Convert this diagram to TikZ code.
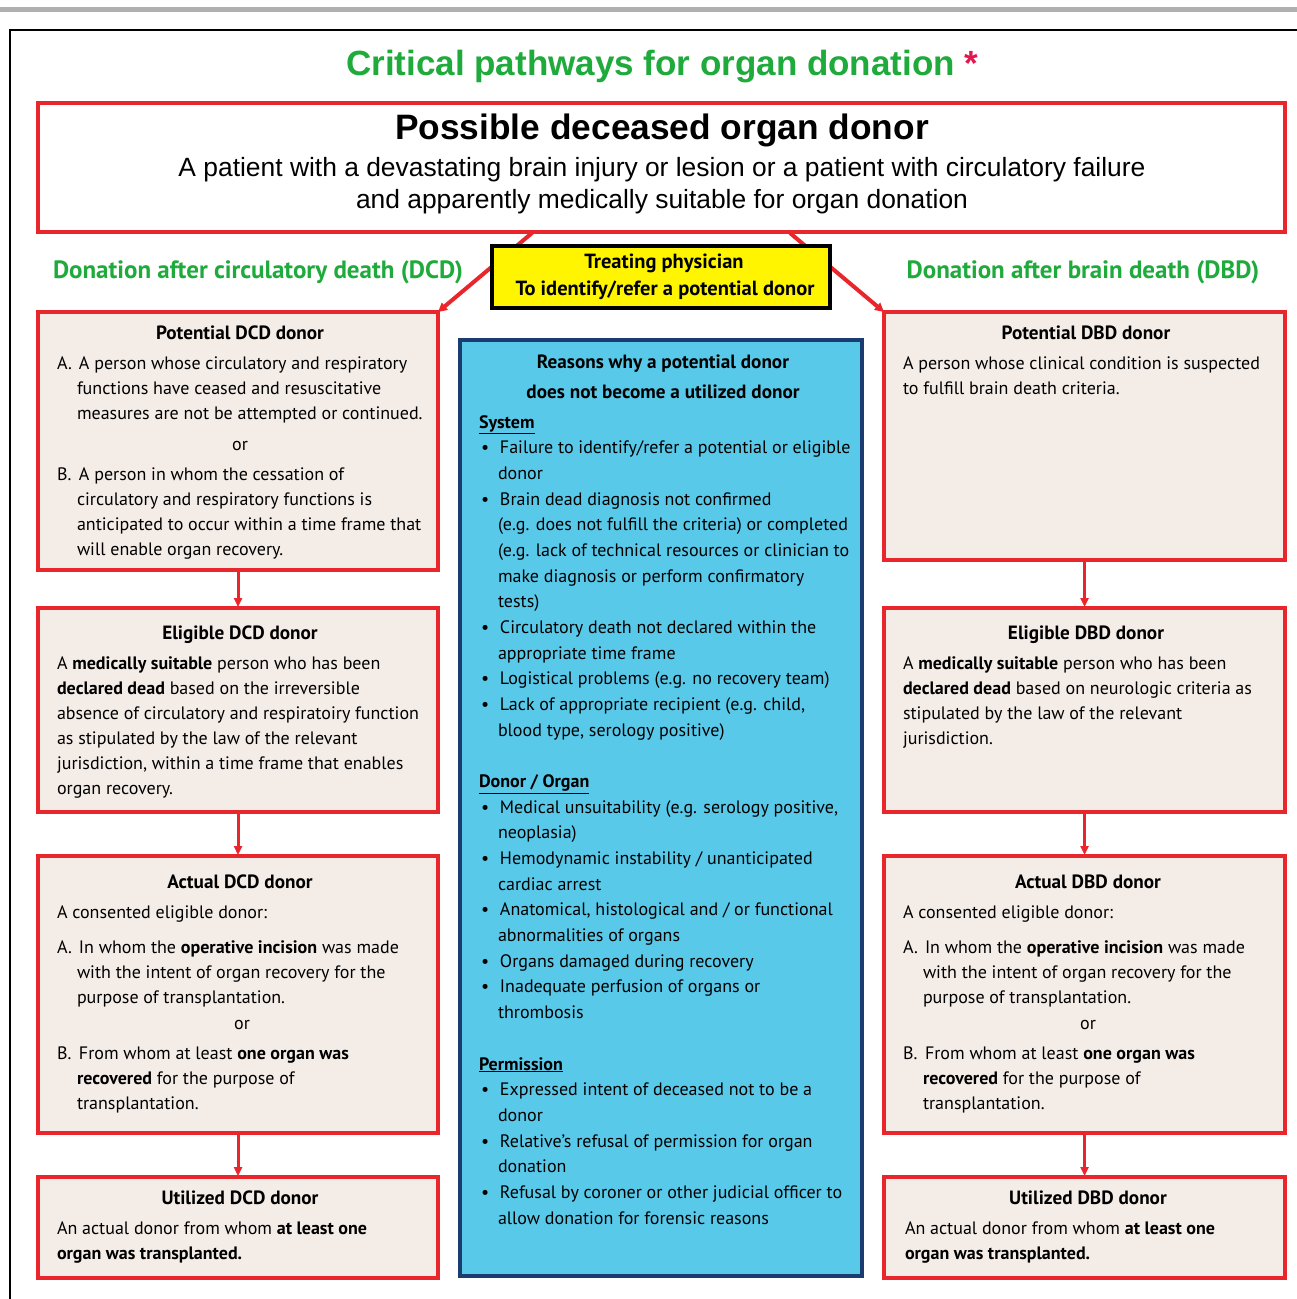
\documentclass[tikz,border=0pt]{standalone}
\usepackage{fontspec}
\setmainfont{PT Sans}
\newfontfamily\arialf{Liberation Sans}
\usetikzlibrary{arrows.meta}
\definecolor{redc}{HTML}{E8262B}
\definecolor{beige}{HTML}{F4ECE7}
\definecolor{bluec}{HTML}{59C9EA}
\definecolor{navyc}{HTML}{1B3C70}
\definecolor{yellowc}{HTML}{FFF500}
\definecolor{greent}{HTML}{1FAA3C}
\definecolor{starc}{HTML}{E3174F}
\definecolor{grayc}{HTML}{B0B0B0}
\newcommand\bodyfont{\fontsize{18}{25}\selectfont}
\newcommand\blk[1]{\vtop{\halign{##\hfil\cr#1\crcr}}}
\newcommand\lab[1]{\makebox[22pt][l]{#1}}
\newcommand\ind{\hspace*{20pt}}
\newcommand\bul{\makebox[21pt][l]{\hspace*{2pt}\textbullet}}
\newcommand\cind{\hspace*{19pt}}
\tikzset{
  redbox/.style={draw=redc, line width=4pt, fill=beige, inner sep=0pt, outer sep=0pt, anchor=north west},
  txt/.style={inner sep=0pt, outer sep=0pt, anchor=base west, font=\bodyfont},
  ttl/.style={inner sep=0pt, outer sep=0pt, anchor=base, font=\fontsize{19.2}{25}\selectfont\bfseries},
  orlbl/.style={inner sep=0pt, outer sep=0pt, anchor=base, font=\bodyfont},
  hdr/.style={inner sep=0pt, anchor=base, text=greent, font=\fontsize{25}{30}\selectfont\bfseries},
  arr/.style={draw=redc, line width=3pt, shorten >=1pt, -{Triangle[length=9pt,width=8pt]}},
}
\begin{document}
\begin{tikzpicture}[x=1pt,y=-1pt]
\useasboundingbox (0,0) rectangle (1297,1299);
\fill[white] (0,0) rectangle (1297,1299);
% top gray bar and frame
\fill[grayc] (0,7) rectangle (1297,12);
\draw[line width=2pt] (10,1299) -- (10,30) -- (1297,30);
% title
\node[inner sep=0pt, anchor=base west, text=greent, font=\arialf\bfseries\fontsize{35}{40}\selectfont] (title) at (346,75) {Critical pathways for organ donation \textcolor{starc}{*}};
% top box
\node[draw=redc, line width=4pt, fill=white, inner sep=0pt, outer sep=0pt, anchor=north west, minimum width=1247pt, minimum height=129pt] (top) at (38,103) {};
\node[inner sep=0pt, anchor=base, font=\arialf\bfseries\fontsize{35.3}{40}\selectfont] (topT) at (662,139) {Possible deceased organ donor};
\node[inner sep=0pt, anchor=base, font=\arialf\fontsize{26.4}{30}\selectfont] (topL1) at (662,176) {A patient with a devastating brain injury or lesion or a patient with circulatory failure};
\node[inner sep=0pt, anchor=base, font=\arialf\fontsize{26.4}{30}\selectfont] (topL2) at (662,208) {and apparently medically suitable for organ donation};
% headers
\node[hdr] (hdcd) at (258,278) {Donation after circulatory death (DCD)};
\node[hdr] (hdbd) at (1083,278) {Donation after brain death (DBD)};
% left column boxes
\node[redbox, minimum width=400pt, minimum height=258pt] (pdcd) at (38,312) {};
\node[redbox, minimum width=400pt, minimum height=204pt] (edcd) at (38,608) {};
\node[redbox, minimum width=400pt, minimum height=277pt] (adcd) at (38,856) {};
\node[redbox, minimum width=400pt, minimum height=101pt] (udcd) at (38,1177) {};
% right column boxes
\node[redbox, minimum width=401pt, minimum height=248pt] (pdbd) at (884,312) {};
\node[redbox, minimum width=401pt, minimum height=204pt] (edbd) at (884,608) {};
\node[redbox, minimum width=401pt, minimum height=277pt] (adbd) at (884,856) {};
\node[redbox, minimum width=401pt, minimum height=101pt] (udbd) at (884,1177) {};
% center blue box
\node[draw=navyc, line width=4pt, fill=bluec, inner sep=0pt, outer sep=0pt, anchor=north west, minimum width=402pt, minimum height=936pt] (why) at (460,340) {};
% arrows
\draw[arr] (pdcd.south) -- (edcd.north);
\draw[arr] (edcd.south) -- (adcd.north);
\draw[arr] (adcd.south) -- (udcd.north);
\draw[arr] (pdbd.south) -- (edbd.north);
\draw[arr] (edbd.south) -- (adbd.north);
\draw[arr] (adbd.south) -- (udbd.north);
\coordinate (tl) at (532,233);
\coordinate (tr) at (790,233);
\draw[draw=redc, line width=4pt, -{Triangle[length=9pt,width=9pt]}] (tl) -- (pdcd.north east);
\draw[draw=redc, line width=4pt, -{Triangle[length=9pt,width=9pt]}] (tr) -- (pdbd.north west);
% yellow box
\node[draw=black, line width=4pt, fill=yellowc, inner sep=0pt, outer sep=0pt, anchor=north west, minimum width=338pt, minimum height=62pt] (phys) at (492,246) {};
\node[inner sep=0pt, anchor=base, font=\fontsize{20.5}{22}\selectfont\bfseries] (physT) at (664,268) {Treating physician};
\node[inner sep=0pt, anchor=base, font=\fontsize{20.5}{22}\selectfont\bfseries] (physL) at (665,295) {To identify/refer a potential donor};
% Potential DCD
\node[ttl] (pdcdT) at (240,339) {Potential DCD donor};
\node[txt] (pdcdA) at (57,369) {\blk{\lab{A.}A person whose circulatory and respiratory\cr
\ind functions have ceased and resuscitative\cr
\ind measures are not be attempted or continued.}};
\node[orlbl] (pdcdO) at (240,450) {or};
\node[txt] (pdcdB) at (57,480) {\blk{\lab{B.}A person in whom the cessation of\cr
\ind circulatory and respiratory functions is\cr
\ind anticipated to occur within a time frame that\cr
\ind will enable organ recovery.}};
% Eligible DCD
\node[ttl] (edcdT) at (240,639) {Eligible DCD donor};
\node[txt] (edcdX) at (57,669) {\blk{A \textbf{medically suitable} person who has been\cr
\textbf{declared dead} based on the irreversible\cr
absence of circulatory and respiratoiry function\cr
as stipulated by the law of the relevant\cr
jurisdiction, within a time frame that enables\cr
organ recovery.}};
% Actual DCD
\node[ttl] (adcdT) at (240,888) {Actual DCD donor};
\node[txt] (adcdX) at (57,918) {A consented eligible donor:};
\node[txt] (adcdA) at (57,953) {\blk{\lab{A.}In whom the \textbf{operative incision} was made\cr
\ind with the intent of organ recovery for the\cr
\ind purpose of transplantation.}};
\node[orlbl] (adcdO) at (242,1029) {or};
\node[txt] (adcdB) at (57,1059) {\blk{\lab{B.}From whom at least \textbf{one organ was}\cr
\ind\textbf{recovered} for the purpose of\cr
\ind transplantation.}};
% Utilized DCD
\node[ttl] (udcdT) at (240,1204) {Utilized DCD donor};
\node[txt] (udcdX) at (57,1234) {\blk{An actual donor from whom \textbf{at least one}\cr
\textbf{organ was transplanted.}}};
% Potential DBD
\node[ttl] (pdbdT) at (1086,339) {Potential DBD donor};
\node[txt] (pdbdX) at (903,369) {\blk{A person whose clinical condition is suspected\cr
to fulfill brain death criteria.}};
% Eligible DBD
\node[ttl] (edbdT) at (1086,639) {Eligible DBD donor};
\node[txt] (edbdX) at (903,669) {\blk{A \textbf{medically suitable} person who has been\cr
\textbf{declared dead} based on neurologic criteria as\cr
stipulated by the law of the relevant\cr
jurisdiction.}};
% Actual DBD
\node[ttl] (adbdT) at (1088,888) {Actual DBD donor};
\node[txt] (adbdX) at (903,918) {A consented eligible donor:};
\node[txt] (adbdA) at (903,953) {\blk{\lab{A.}In whom the \textbf{operative incision} was made\cr
\ind with the intent of organ recovery for the\cr
\ind purpose of transplantation.}};
\node[orlbl] (adbdO) at (1088,1029) {or};
\node[txt] (adbdB) at (903,1059) {\blk{\lab{B.}From whom at least \textbf{one organ was}\cr
\ind\textbf{recovered} for the purpose of\cr
\ind transplantation.}};
% Utilized DBD
\node[ttl] (udbdT) at (1088,1204) {Utilized DBD donor};
\node[txt] (udbdX) at (905,1234) {\blk{An actual donor from whom \textbf{at least one}\cr
\textbf{organ was transplanted.}}};
% center box text
\node[ttl] (whyT1) at (663,368) {Reasons why a potential donor};
\node[ttl] (whyT2) at (663,398) {does not become a utilized donor};
\node[txt, font=\fontsize{18}{25.68}\selectfont] (whyX) at (479,428) {\blk{\underline{\textbf{System}}\cr
\bul Failure to identify/refer a potential or eligible\cr
\cind donor\cr
\bul Brain dead diagnosis not confirmed\cr
\cind (e.g. does not fulfill the criteria) or completed\cr
\cind (e.g. lack of technical resources or clinician to\cr
\cind make diagnosis or perform confirmatory\cr
\cind tests)\cr
\bul Circulatory death not declared within the\cr
\cind appropriate time frame\cr
\bul Logistical problems (e.g. no recovery team)\cr
\bul Lack of appropriate recipient (e.g. child,\cr
\cind blood type, serology positive)\cr
\cr
\underline{\textbf{Donor / Organ}}\cr
\bul Medical unsuitability (e.g. serology positive,\cr
\cind neoplasia)\cr
\bul Hemodynamic instability / unanticipated\cr
\cind cardiac arrest\cr
\bul Anatomical, histological and / or functional\cr
\cind abnormalities of organs\cr
\bul Organs damaged during recovery\cr
\bul Inadequate perfusion of organs or\cr
\cind thrombosis\cr
\cr
\underline{\textbf{Permission}}\cr
\bul Expressed intent of deceased not to be a\cr
\cind donor\cr
\bul Relative's refusal of permission for organ\cr
\cind donation\cr
\bul Refusal by coroner or other judicial officer to\cr
\cind allow donation for forensic reasons}};
\end{tikzpicture}
\end{document}
